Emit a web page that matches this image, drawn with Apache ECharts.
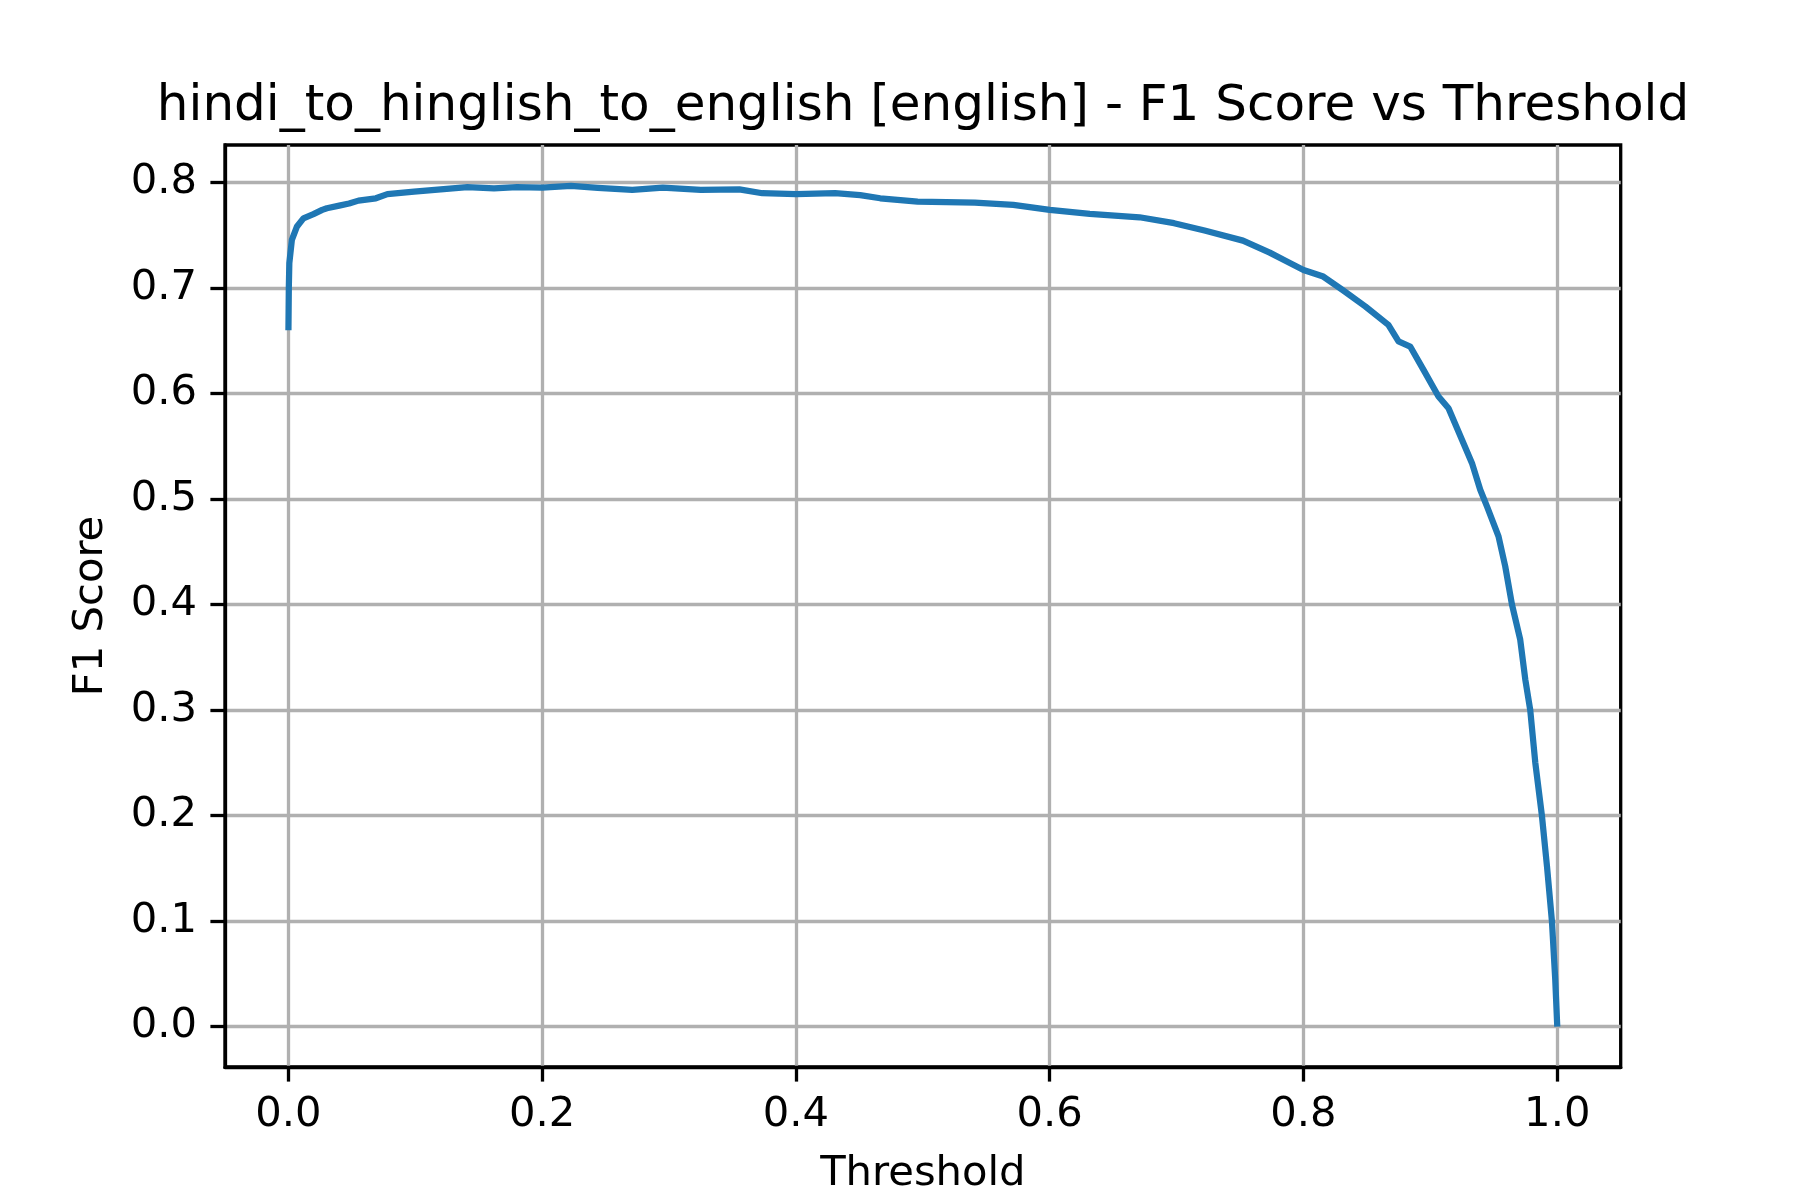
<!DOCTYPE html>
<html>
<head>
<meta charset="utf-8">
<title>F1 Score vs Threshold</title>
<script src="https://cdn.jsdelivr.net/npm/echarts@6/dist/echarts.min.js"></script>
<style>
  html, body { margin:0; padding:0; background:#fff; }
  #chart { width:1800px; height:1200px; }
</style>
</head>
<body>
<div id="chart"></div>
<script>
// ---- data ----
const thresholds = [
  0.0000, 0.0003, 0.0007, 0.0027, 0.0066, 0.0118, 0.0197, 0.0266, 0.0303, 0.0400,
  0.0478, 0.0552, 0.0689, 0.0780, 0.0990, 0.1200, 0.1410, 0.1620, 0.1800, 0.2000,
  0.2227, 0.2438, 0.2710, 0.2950, 0.3250, 0.3554, 0.3735, 0.4000, 0.4308, 0.4506,
  0.4664, 0.4959, 0.5410, 0.5713, 0.6000, 0.6316, 0.6708, 0.6980, 0.7220, 0.7523,
  0.7734, 0.7854, 0.8000, 0.8156, 0.8307, 0.8488, 0.8669, 0.8749, 0.8841, 0.8946,
  0.9064, 0.9143, 0.9249, 0.9328, 0.9393, 0.9446, 0.9537, 0.9590, 0.9643, 0.9708,
  0.9748, 0.9787, 0.9827, 0.9879, 0.9919, 0.9958, 0.9984, 1.0000
];
const f1Scores = [
  0.660, 0.700, 0.7235, 0.7455, 0.758, 0.766, 0.770, 0.774, 0.7756, 0.778,
  0.780, 0.7828, 0.785, 0.789, 0.7913, 0.7935, 0.7955, 0.7945, 0.7955, 0.795,
  0.7967, 0.7948, 0.7929, 0.795, 0.7929, 0.7935, 0.7898, 0.789, 0.7898, 0.788,
  0.785, 0.7818, 0.781, 0.7787, 0.774, 0.7702, 0.767, 0.7614, 0.7544, 0.7449,
  0.7335, 0.726, 0.717, 0.7108, 0.6982, 0.6824, 0.665, 0.6493, 0.6445, 0.6224,
  0.5972, 0.5861, 0.5562, 0.534, 0.5088, 0.493, 0.4646, 0.4362, 0.400, 0.3668,
  0.329, 0.300, 0.250, 0.200, 0.152, 0.100, 0.0448, 0.000
];
const xTicks = [0, 0.2, 0.4, 0.6, 0.8, 1.0];
const yTicks = [0, 0.1, 0.2, 0.3, 0.4, 0.5, 0.6, 0.7, 0.8];

const FONT = 'DejaVu Sans';
const TICK_FS = 41.7;
const LW = 3.3;

const chart = echarts.init(document.getElementById('chart'), null, { renderer:'canvas' });
chart.setOption({
  backgroundColor:'#ffffff',
  animation:false,
  title:{
    text:'hindi_to_hinglish_to_english [english] - F1 Score vs Threshold',
    left:923, top:82, padding:0,
    textAlign:'center',
    textStyle:{ fontFamily:FONT, fontSize:50, fontWeight:'normal', color:'#000' }
  },
  grid:{
    left:225, right:179.3, top:145, bottom:132.3,
    show:true, borderColor:'#000', borderWidth:LW, backgroundColor:'transparent',
    containLabel:false
  },
  xAxis:{
    type:'value',
    min:-0.05, max:1.05,
    name:'Threshold', nameLocation:'middle', nameGap:86,
    nameTextStyle:{ fontFamily:FONT, fontSize:TICK_FS, color:'#000' },
    axisLine:{ show:true, onZero:false, lineStyle:{ color:'#000', width:LW } },
    axisTick:{ show:true, length:14.6, customValues:xTicks, lineStyle:{ color:'#000', width:LW } },
    axisLabel:{
      customValues:xTicks, margin:27,
      fontFamily:FONT, fontSize:TICK_FS, color:'#000',
      formatter: v => v.toFixed(1)
    },
    splitLine:{ show:true, lineStyle:{ color:'#b0b0b0', width:LW } }
  },
  yAxis:{
    type:'value',
    min:-0.03826, max:0.8355,
    name:'F1 Score', nameLocation:'middle', nameGap:113,
    nameTextStyle:{ fontFamily:FONT, fontSize:TICK_FS, color:'#000' },
    axisLine:{ show:true, onZero:false, lineStyle:{ color:'#000', width:LW } },
    axisTick:{ show:true, length:14.6, customValues:yTicks, lineStyle:{ color:'#000', width:LW } },
    axisLabel:{
      customValues:yTicks, margin:28,
      fontFamily:FONT, fontSize:TICK_FS, color:'#000',
      formatter: v => v.toFixed(1)
    },
    splitLine:{ show:true, lineStyle:{ color:'#b0b0b0', width:LW } }
  },
  series:[{
    type:'line',
    data: thresholds.map((t, i) => [t, f1Scores[i]]),
    showSymbol:false,
    smooth:false,
    clip:true,
    lineStyle:{ color:'#1f77b4', width:6.25, cap:'butt', join:'round' },
    z:3
  }]
});
</script>
</body>
</html>
